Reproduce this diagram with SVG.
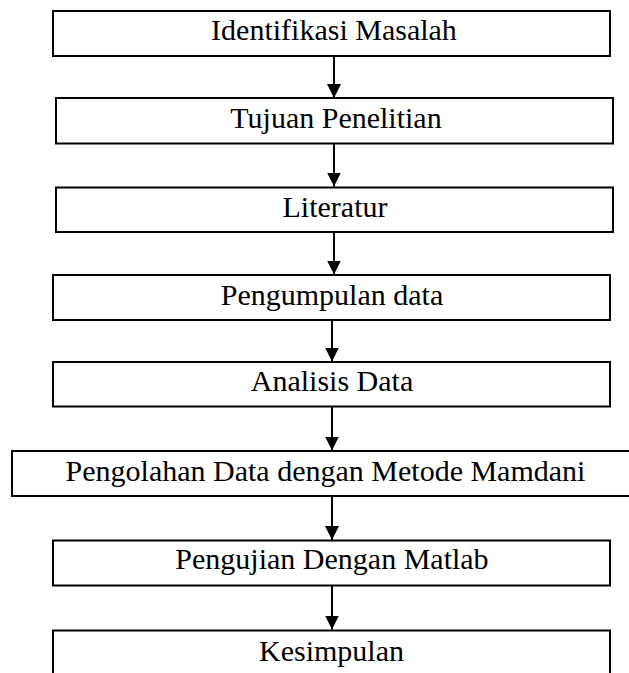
<svg xmlns="http://www.w3.org/2000/svg" width="629" height="673" viewBox="0 0 629 673">
<style>
.box{fill:#fff;stroke:#000;stroke-width:2}
.lbl{font-family:"Liberation Serif","Times New Roman",serif;font-size:30px;fill:#000;text-anchor:middle}
.conn{stroke:#000;stroke-width:2;fill:none}
</style>
<defs>
<marker id="ah" markerUnits="userSpaceOnUse" markerWidth="14" markerHeight="14" refX="14" refY="7" orient="auto">
<path d="M0,0 L14,7 L0,14 z" fill="#000"/>
</marker>
</defs>
<rect width="629" height="673" fill="#fff"/>
<g id="n1"><rect class="box" x="53" y="11" width="557" height="45"/><text class="lbl" x="334" y="40">Identifikasi Masalah</text></g>
<g id="n2"><rect class="box" x="56" y="98" width="557" height="45.5"/><text class="lbl" x="336" y="127.5">Tujuan Penelitian</text></g>
<g id="n3"><rect class="box" x="56" y="187.5" width="557" height="44.5"/><text class="lbl" x="335" y="216.5">Literatur</text></g>
<g id="n4"><rect class="box" x="53" y="275" width="557" height="45"/><text class="lbl" x="332" y="304.5">Pengumpulan data</text></g>
<g id="n5"><rect class="box" x="53" y="362" width="557" height="44.5"/><text class="lbl" x="332" y="391">Analisis Data</text></g>
<g id="n6"><rect class="box" x="12" y="451" width="633" height="45"/><text class="lbl" x="325.5" y="481">Pengolahan Data dengan Metode Mamdani</text></g>
<g id="n7"><rect class="box" x="53" y="540.5" width="557" height="45"/><text class="lbl" x="332" y="569">Pengujian Dengan Matlab</text></g>
<g id="n8"><rect class="box" x="53" y="630.5" width="557" height="60"/><text class="lbl" x="331.5" y="660.5">Kesimpulan</text></g>
<g id="connectors">
<line class="conn" x1="334" y1="56" x2="334" y2="98" marker-end="url(#ah)"/>
<line class="conn" x1="334" y1="143.5" x2="334" y2="186.5" marker-end="url(#ah)"/>
<line class="conn" x1="334" y1="232" x2="334" y2="274.5" marker-end="url(#ah)"/>
<line class="conn" x1="332" y1="320" x2="332" y2="361.5" marker-end="url(#ah)"/>
<line class="conn" x1="332" y1="406.5" x2="332" y2="450.5" marker-end="url(#ah)"/>
<line class="conn" x1="332" y1="496" x2="332" y2="540" marker-end="url(#ah)"/>
<line class="conn" x1="332" y1="585.5" x2="332" y2="629.5" marker-end="url(#ah)"/>
</g>
</svg>
